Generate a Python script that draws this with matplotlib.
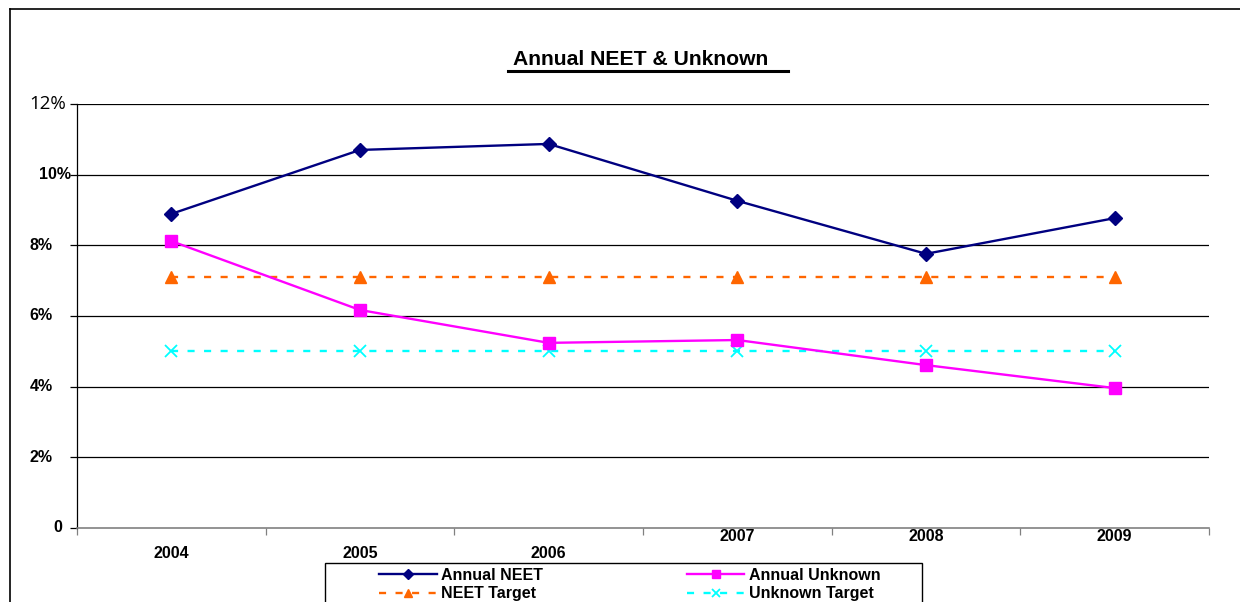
import matplotlib
matplotlib.use("Agg")
import matplotlib.pyplot as plt
import matplotlib.transforms as mtransforms
from matplotlib.lines import Line2D
from matplotlib.patches import Rectangle

years = ["2004", "2005", "2006", "2007", "2008", "2009"]
annual_neet = [8.89, 10.70, 10.87, 9.26, 7.76, 8.77]
annual_unknown = [8.12, 6.17, 5.24, 5.32, 4.61, 3.96]
neet_target = [7.1, 7.1, 7.1, 7.1, 7.1, 7.1]
unknown_target = [5.0, 5.0, 5.0, 5.0, 5.0, 5.0]
y_ticks = [0, 2, 4, 6, 8, 10, 12]
y_labels = ["0", "2%", "4%", "6%", "8%", "10%", "12%"]

W, H = 1240, 602
fig = plt.figure(figsize=(W / 100, H / 100), dpi=100)
plt.rcParams['font.family'] = ['Liberation Sans', 'DejaVu Sans']

L, R, T, B = 77, 1209, 104, 528
ax = fig.add_axes([L / W, 1 - B / H, (R - L) / W, (B - T) / H])

x = list(range(len(years)))
h1, = ax.plot(x, annual_neet, color="#000080", lw=1.7, marker="D", ms=7.5, label="Annual NEET", zorder=5)
h2, = ax.plot(x, annual_unknown, color="#FF00FF", lw=1.7, marker="s", ms=8, label="Annual Unknown", zorder=5)
h3, = ax.plot(x, neet_target, color="#FF6600", lw=1.7, ls=(0, (3, 4)), marker="^", ms=9, label="NEET Target", zorder=4)
h4, = ax.plot(x, unknown_target, color="#00FFFF", lw=1.7, ls=(0, (3, 4)), marker="x", ms=9, mew=1.3, label="Unknown Target", zorder=4)

ax.set_xlim(-0.5, len(years) - 0.5)
ax.set_ylim(0, 12)

for s in ["top", "right"]:
    ax.spines[s].set_visible(False)
ax.spines["left"].set_color("#000000")
ax.spines["left"].set_linewidth(0.9)
ax.spines["bottom"].set_color("#808080")
ax.spines["bottom"].set_linewidth(1.2)

ax.set_yticks(y_ticks)
ax.set_yticklabels([])
ax.tick_params(axis="y", length=5, width=0.9, color="#000000")
for yv in y_ticks[1:]:
    ax.axhline(yv, color="#000000", lw=0.9, zorder=1)

# y tick labels with the reference's irregular alignment
blend = mtransforms.blended_transform_factory(fig.transFigure, ax.transData)
label_right = {"0": 62, "2%": 53, "4%": 53, "6%": 53, "8%": 53, "10%": 71, "12%": 66}
for yv, lab in zip(y_ticks, y_labels):
    if lab == "12%":
        ax.text(label_right[lab] / W, yv, lab, transform=blend, ha="right", va="center",
                fontsize=13.5, family=["Open Sans", "DejaVu Sans"], clip_on=False)
    else:
        ax.text(label_right[lab] / W, yv, lab, transform=blend, ha="right", va="center",
                fontsize=11.5, fontweight="bold", clip_on=False)

# x axis: ticks at category boundaries, labels at centres
ax.set_xticks([i - 0.5 for i in range(len(years) + 1)], minor=True)
ax.set_xticks(x)
ax.set_xticklabels(years, fontsize=11.5, fontweight="bold")
ax.tick_params(axis="x", which="major", length=0, pad=1)
ax.tick_params(axis="x", which="minor", length=5, width=0.9, color="#808080")
for i, lbl in enumerate(ax.get_xticklabels()):
    if i < 3:
        lbl.set_transform(lbl.get_transform() + mtransforms.ScaledTranslation(0, -0.17, fig.dpi_scale_trans))

# title with underline
fig.text(641 / W, 1 - 65 / H, "Annual NEET & Unknown", ha="center", va="baseline",
         fontsize=15.2, fontweight="bold")
fig.add_artist(Line2D([508 / W, 788 / W], [1 - 70.5 / H, 1 - 70.5 / H], color="black", lw=2.2))

# outer frame
fig.add_artist(Line2D([10 / W, 1.0], [1 - 9 / H, 1 - 9 / H], color="black", lw=1.2))
fig.add_artist(Line2D([10 / W, 10 / W], [1 - 9 / H, 0], color="black", lw=1.2))

# legend box
fig.add_artist(Rectangle((325 / W, -0.05), (922 - 325) / W, 1 - 563 / H + 0.05,
                         transform=fig.transFigure, fill=False, edgecolor="black", lw=1.0))
leg = fig.legend([h1, h3, h2, h4], ["Annual NEET", "NEET Target", "Annual Unknown", "Unknown Target"],
                 loc="upper left", bbox_to_anchor=(379 / W, 1 - 567.5 / H), ncol=2,
                 frameon=False, prop={"weight": "bold", "size": 11.5}, markerscale=0.7,
                 handlelength=3.6, columnspacing=9.0, borderpad=0.0, labelspacing=0.25,
                 handletextpad=0.3, borderaxespad=0)

fig.savefig("out.png", dpi=100)
